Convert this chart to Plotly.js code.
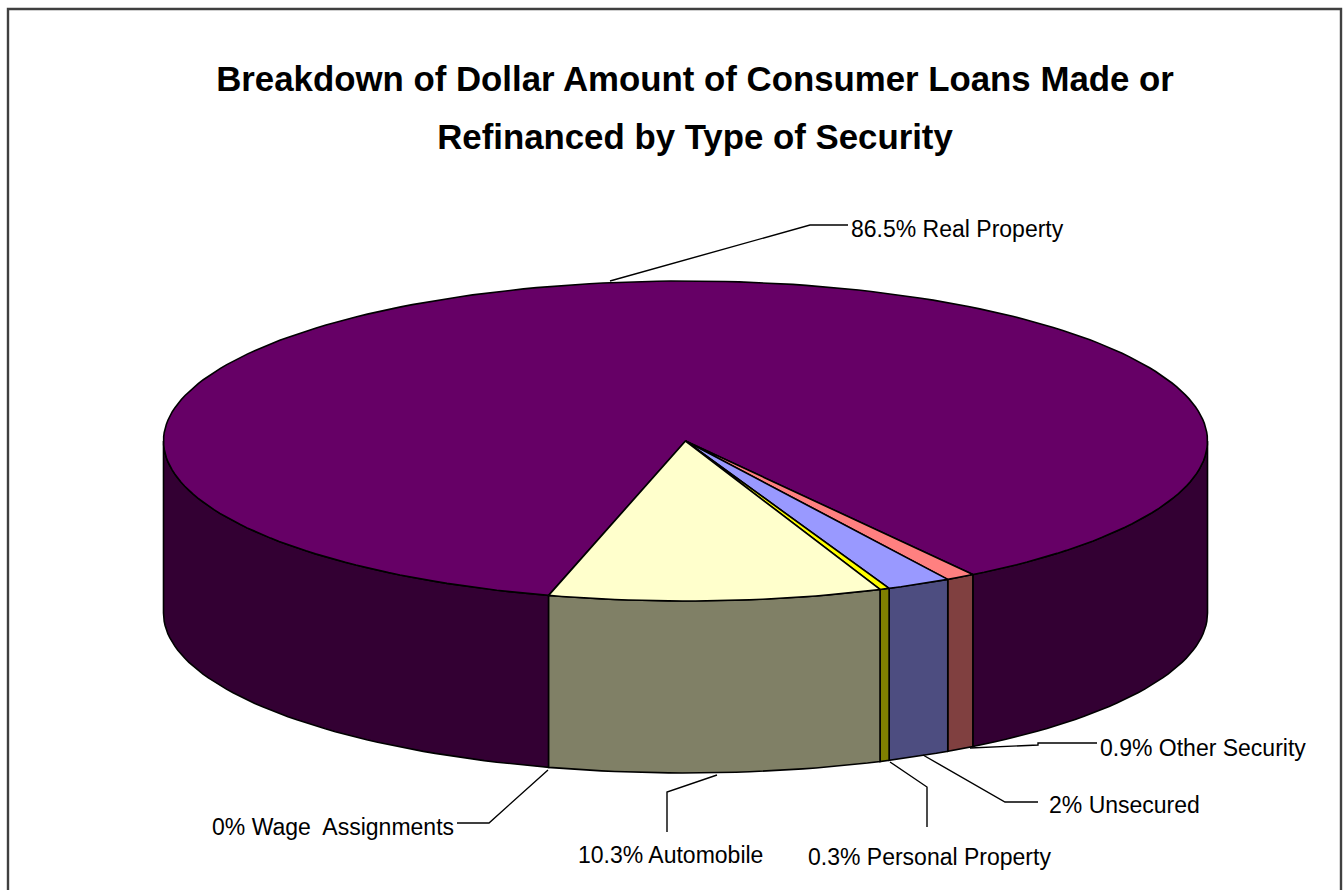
<!DOCTYPE html>
<html>
<head>
<meta charset="utf-8">
<script src="https://cdn.plot.ly/plotly-3.0.1.min.js"></script>
<style>html,body{margin:0;padding:0;background:#fff;overflow:hidden}</style>
</head>
<body>
<div id="chart" style="width:1343px;height:890px"></div>
<script>
// Data, in pie order (clockwise seen from above, starting at the front-left edge)
const categories = ["Wage\u00a0 Assignments", "Automobile", "Personal Property", "Unsecured", "Other Security", "Real Property"];
const percents = [0, 10.3, 0.3, 2, 0.9, 86.5];

// Styles
const topColors = ["#FFFFCC", "#FFFFCC", "#FFFF00", "#9999FF", "#FF8080", "#660066"];
const sideColors = ["#808066", "#808066", "#808000", "#4D4D80", "#804040", "#330033"];

// Layout of the tilted pie, in page pixels
const cx = 685.5, cy = 441, rx = 522, ry = 160, depth = 172, startDeg = -15.2;

const rad = d => d * Math.PI / 180;
const px = d => cx + rx * Math.sin(rad(d));
const py = d => cy + ry * Math.cos(rad(d));

function arc(a, b) {
  const n = Math.max(2, Math.ceil(Math.abs(b - a) / 1.5));
  const out = [];
  for (let i = 0; i <= n; i++) out.push(a + (b - a) * i / n);
  return out;
}

function poly(xs, ys, color) {
  return {type: "scatter", mode: "lines", x: xs, y: ys, fill: "toself", fillcolor: color,
          line: {color: "#000", width: 1.6}, hoverinfo: "skip", showlegend: false};
}

function side(a, b, color) {
  const A = [];
  // a slice may wrap round the back; cut it to each visible front window
  [[-90, 90], [270, 450]].forEach(w => {
    const s = Math.max(a, w[0]), e = Math.min(b, w[1]);
    if (e > s) {
      const t = arc(s, e);
      const xs = t.map(px).concat(t.slice().reverse().map(px));
      const ys = t.map(d => py(d)).concat(t.slice().reverse().map(d => py(d) + depth));
      xs.push(xs[0]); ys.push(ys[0]);
      A.push(poly(xs, ys, color));
    }
  });
  return A;
}

function wedge(a, b, color) {
  const t = arc(a, b);
  const xs = [cx].concat(t.map(px), [cx]);
  const ys = [cy].concat(t.map(py), [cy]);
  return poly(xs, ys, color);
}

const traces = [];
const spans = [];
let running = startDeg;
percents.forEach((p, i) => {
  spans.push([running, running + p * 3.6]);
  running += p * 3.6;
});
// sides first, largest slice at the back, then the top surfaces
for (let i = percents.length - 1; i >= 0; i--) {
  if (percents[i] > 0) traces.push(...side(spans[i][0], spans[i][1], sideColors[i]));
}
for (let i = percents.length - 1; i >= 0; i--) {
  if (percents[i] > 0) traces.push(wedge(spans[i][0], spans[i][1], topColors[i]));
}

// Label placement and leader lines, page pixels
const labelPos = [[211, 827], [577, 855], [807, 857], [1048, 805], [1099, 748], [850, 229]];
const leaders = [
  "M548,770 L489,823 L457,823",
  "M717,775 L667,792 L667,832",
  "M890,762 L927,787 L927,827",
  "M923,755 L1005,802 L1038,802",
  "M970,748 L1038,745 L1038,743 L1097,743",
  "M610,281 L810,225 L848,225"
];

const annotations = categories.map((c, i) => ({
  x: labelPos[i][0], y: labelPos[i][1], xref: "x", yref: "y",
  text: percents[i] + "% " + c, showarrow: false, xanchor: "left", yanchor: "middle",
  borderpad: 0, font: {family: "Liberation Sans, Arial, sans-serif", size: 23, color: "#000"}
}));

const shapes = leaders.map(path => ({type: "path", path, xref: "x", yref: "y", line: {color: "#000", width: 1.4}}));
shapes.push({type: "rect", xref: "x", yref: "y", x0: 8, y0: 9, x1: 1341, y1: 900, line: {color: "#404040", width: 2.4}, layer: "below"});

const layout = {
  width: 1343, height: 890,
  margin: {l: 0, r: 0, t: 0, b: 0},
  paper_bgcolor: "#fff", plot_bgcolor: "#fff",
  showlegend: false,
  title: {
    text: '<span style="font-size:34.8px">Breakdown of Dollar Amount of Consumer Loans Made or</span><br><span style="font-size:34.8px">Refinanced by Type of Security</span>',
    x: 0.5175, xanchor: "center", y: 0.898, yanchor: "top",
    font: {family: "Liberation Sans, Arial, sans-serif", size: 44.6, color: "#000", weight: 700}
  },
  xaxis: {range: [0, 1343], visible: false, fixedrange: true},
  yaxis: {range: [890, 0], visible: false, fixedrange: true},
  annotations, shapes
};

Plotly.newPlot("chart", traces, layout, {staticPlot: true, displayModeBar: false});
</script>
</body>
</html>
